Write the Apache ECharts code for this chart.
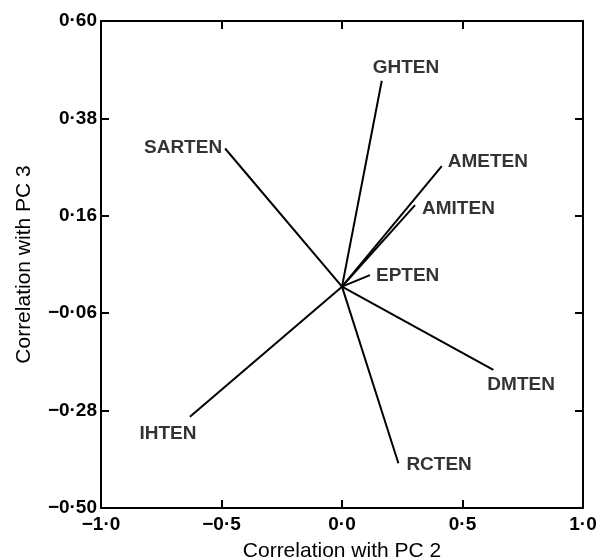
<!DOCTYPE html>
<html>
<head>
<meta charset="utf-8">
<script src="https://cdn.jsdelivr.net/npm/echarts@6/dist/echarts.min.js"></script>
<style>
html,body{margin:0;padding:0;background:#fff;}
#c{width:599px;height:560px;}
</style>
</head>
<body>
<div id="c"></div>
<script>
// Variables (vectors from origin)
var names = ['GHTEN', 'AMETEN', 'AMITEN', 'EPTEN', 'DMTEN', 'RCTEN', 'SARTEN', 'IHTEN'];
var pc2 = [0.165, 0.414, 0.303, 0.116, 0.628, 0.234, -0.485, -0.631];
var pc3 = [0.465, 0.272, 0.184, 0.026, -0.188, -0.399, 0.312, -0.294];
var xTicks = [-1.0, -0.5, 0.0, 0.5, 1.0];
var yTicks = [-0.50, -0.28, -0.06, 0.16, 0.38, 0.60];

// label placement (styling only)
var labelPos = {
  GHTEN:  {pos: [-9, -13], align: 'left'},
  AMETEN: {pos: [6, -4], align: 'left'},
  AMITEN: {pos: [7, 4], align: 'left'},
  EPTEN:  {pos: [6, 1], align: 'left'},
  DMTEN:  {pos: [-6, 15], align: 'left'},
  RCTEN:  {pos: [8, 1], align: 'left'},
  SARTEN: {pos: [-3, -1], align: 'right'},
  IHTEN:  {pos: [-22, 17], align: 'center'}
};

var FONT = 'Liberation Sans';
function fmt(v, d) {
  var s = Math.abs(v).toFixed(d).replace('.', '\u00b7');
  return (v < -1e-9 ? '\u2212' : '') + s;
}

var series = [];
names.forEach(function (n, i) {
  series.push({
    type: 'line',
    data: [[0, 0], [pc2[i], pc3[i]]],
    showSymbol: false,
    symbol: 'none',
    lineStyle: {color: '#000', width: 2},
    silent: true,
    animation: false,
    z: 3
  });
});
series.push({
  type: 'scatter',
  symbolSize: 0,
  silent: true,
  animation: false,
  data: names.map(function (n, i) {
    var lp = labelPos[n];
    return {
      value: [pc2[i], pc3[i]],
      name: n,
      label: {
        show: true,
        position: lp.pos,
        align: lp.align,
        verticalAlign: 'middle',
        formatter: n,
        color: '#000',
        fontFamily: FONT,
        fontWeight: 'bold',
        fontSize: 19
      }
    };
  }),
  z: 4
});

var axisLineStyle = {onZero: false, lineStyle: {color: '#000', width: 2}};
var tickStyle = {color: '#000', width: 2};
var chart = echarts.init(document.getElementById('c'), null, {renderer: 'canvas'});
chart.setOption({
  backgroundColor: '#fff',
  animation: false,
  grid: {left: 101, right: 16, top: 21, bottom: 52, containLabel: false, outerBoundsMode: 'none'},
  xAxis: [{
    type: 'value', min: -1, max: 1, position: 'bottom',
    name: 'Correlation with PC 2', nameLocation: 'middle', nameGap: 33,
    nameTextStyle: {fontFamily: FONT, fontSize: 21, color: '#000'},
    axisLine: axisLineStyle,
    axisTick: {show: true, inside: true, length: 8, lineStyle: tickStyle, customValues: xTicks},
    axisLabel: {customValues: xTicks, formatter: function (v) { return fmt(v, 1); }, margin: 7,
      fontFamily: FONT, fontWeight: 'bold', fontSize: 19, color: '#000'},
    splitLine: {show: false}
  }, {
    type: 'value', min: -1, max: 1, position: 'top',
    axisLine: axisLineStyle,
    axisTick: {show: true, inside: true, length: 8, lineStyle: tickStyle, customValues: xTicks},
    axisLabel: {show: false},
    splitLine: {show: false}
  }],
  yAxis: [{
    type: 'value', min: -0.5, max: 0.6, position: 'left',
    name: 'Correlation with PC 3', nameLocation: 'middle', nameGap: 66,
    nameTextStyle: {fontFamily: FONT, fontSize: 21, color: '#000'},
    axisLine: axisLineStyle,
    axisTick: {show: true, inside: true, length: 8, lineStyle: tickStyle, customValues: yTicks},
    axisLabel: {customValues: yTicks, formatter: function (v) { return fmt(v, 2); }, margin: 4,
      fontFamily: FONT, fontWeight: 'bold', fontSize: 19, color: '#000'},
    splitLine: {show: false}
  }, {
    type: 'value', min: -0.5, max: 0.6, position: 'right',
    axisLine: axisLineStyle,
    axisTick: {show: true, inside: true, length: 8, lineStyle: tickStyle, customValues: yTicks},
    axisLabel: {show: false},
    splitLine: {show: false}
  }],
  series: series
});
</script>
</body>
</html>
